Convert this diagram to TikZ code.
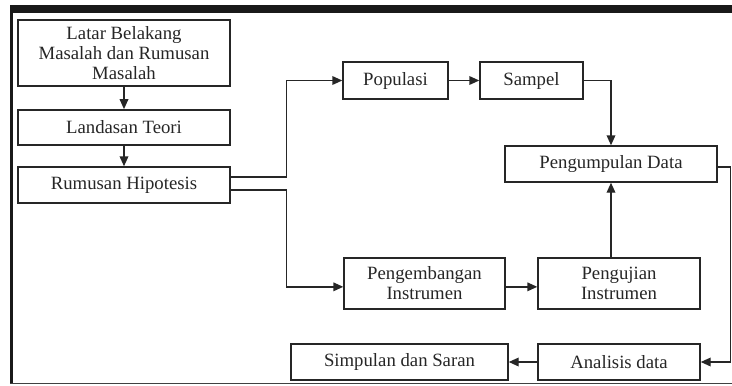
\documentclass[tikz,border=0pt]{standalone}
\usepackage{fontspec}
\setmainfont{Liberation Serif}
\usetikzlibrary{arrows.meta}

\begin{document}
\begin{tikzpicture}[x=0.03cm, y=-0.03cm,
		box/.style={draw=black!85, line width=1.2pt, inner sep=0pt, align=center,
			font=\fontsize{16}{17}\selectfont, text=black!85},
		arr/.style={draw=black!85, line width=1.2pt, -{Triangle[length=3mm,width=2.6mm]}}]
	\useasboundingbox (0,0) rectangle (732,385);

	% frame
	\fill [black!90] (10,5) rectangle (732,13);
	\fill [black!90] (10,5) rectangle (13,383);
	\draw [black!75, line width=0.8pt] (10,383) -- (732,383);

	% left column
	\node[box, minimum width=6.36cm, minimum height=1.98cm] (latar) at (124,53)
		{Latar Belakang\\Masalah dan Rumusan\\Masalah};
	\node[box, minimum width=6.36cm, minimum height=1.06cm] (teori) at (124,127.5) {Landasan Teori};
	\node[box, minimum width=6.36cm, minimum height=1.08cm] (hipo) at (124,185) {Rumusan Hipotesis};

	% upper row
	\node[box, minimum width=3.15cm, minimum height=1.11cm] (pop) at (395.5,80.5) {Populasi};
	\node[box, minimum width=3.09cm, minimum height=1.11cm] (sampel) at (531.5,80.5) {Sampel};
	\node[box, minimum width=6.36cm, minimum height=1.08cm] (kumpul) at (611,164) {Pengumpulan Data};

	% lower rows
	\node[box, minimum width=4.83cm, minimum height=1.53cm] (kembang) at (424.5,283.5)
		{Pengembangan\\Instrumen};
	\node[box, minimum width=4.86cm, minimum height=1.53cm] (uji) at (619,283.5)
		{Pengujian\\Instrumen};
	\node[box, minimum width=6.51cm, minimum height=1.08cm] (simpul) at (399.5,362) {Simpulan dan Saran};
	\node[box, minimum width=4.86cm, minimum height=1.08cm] (analisis) at (619,362) {Analisis data};

	% connectors
	\draw[arr] (latar) -- (teori);
	\draw[arr] (teori) -- (hipo);
	\draw[arr] ([yshift=0.24cm]hipo.east) -| ([xshift=-1.68cm]pop.west) -- (pop.west);
	\draw[arr] ([yshift=-0.15cm]hipo.east) -| ([xshift=-1.71cm, yshift=-0.1cm]kembang.west)
		-- ([yshift=-0.1cm]kembang.west);
	\draw[arr] (pop) -- (sampel);
	\draw[arr] (sampel.east) -| (kumpul.north);
	\draw[arr] ([yshift=-0.1cm]kembang.east) -- ([yshift=-0.1cm]uji.west);
	\draw[arr] (uji.north -| kumpul.south) -- (kumpul.south);
	\draw[arr] ([yshift=-0.09cm]kumpul.east) -- ++(0.39cm,0) |- (analisis.east);
	\draw[arr] (analisis) -- (simpul);
\end{tikzpicture}
\end{document}
